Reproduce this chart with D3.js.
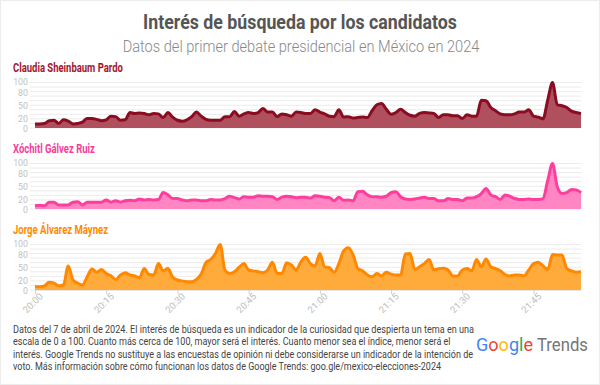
<!DOCTYPE html>
<html>
<head>
<meta charset="utf-8">
<script src="https://cdn.jsdelivr.net/npm/d3@7"></script>
<style>
  body { margin: 0; background: #fff; }
  text { font-family: Roboto, "Noto Sans", sans-serif; }
</style>
</head>
<body>
<script>
const width = 600;
const height = 385;

// one value per minute, 20:00 -> 21:55
const startTime = "20:00";
const endTime = "21:55";

const candidates = ["Claudia Sheinbaum Pardo", "Xóchitl Gálvez Ruiz", "Jorge Álvarez Máynez"];

const claudia = [9, 9, 10, 16, 17, 10, 18, 15, 9, 10, 13, 21, 21, 19, 16, 18, 26, 25, 17, 18,
    34, 32, 33, 32, 29, 32, 31, 23, 34, 24, 17, 15, 18, 25, 35, 26, 19, 17, 17, 17,
    25, 25, 36, 26, 31, 34, 32, 34, 43, 35, 35, 25, 31, 29, 26, 35, 34, 32, 32, 40,
    35, 31, 26, 25, 40, 24, 25, 22, 23, 24, 23, 38, 51, 54, 41, 30, 34, 41, 34, 28,
    26, 32, 34, 33, 32, 23, 29, 29, 27, 27, 21, 29, 26, 26, 61, 60, 45, 38, 31, 29,
    29, 31, 35, 35, 40, 26, 24, 20, 62, 100, 51, 49, 45, 37, 34, 32];

const xochitl = [7, 8, 7, 15, 15, 9, 9, 9, 15, 16, 9, 15, 15, 15, 15, 20, 15, 18, 15, 18,
    19, 18, 22, 20, 21, 20, 21, 36, 31, 23, 23, 20, 18, 20, 20, 18, 18, 21, 20, 20,
    23, 28, 25, 22, 27, 26, 26, 29, 28, 28, 27, 21, 26, 28, 27, 25, 26, 26, 24, 29,
    28, 26, 25, 18, 26, 19, 20, 18, 38, 39, 31, 27, 27, 26, 28, 36, 38, 27, 22, 21,
    22, 24, 26, 23, 23, 18, 18, 23, 21, 21, 18, 24, 24, 27, 34, 45, 31, 27, 21, 31,
    28, 23, 21, 21, 22, 21, 21, 23, 63, 100, 49, 34, 36, 43, 42, 36];

const jorge = [8, 7, 9, 17, 15, 9, 11, 53, 22, 15, 11, 29, 46, 39, 45, 36, 31, 23, 33, 38,
    33, 31, 27, 47, 34, 33, 58, 42, 47, 28, 22, 20, 18, 18, 23, 35, 60, 67, 80, 100,
    44, 36, 40, 50, 58, 44, 42, 40, 38, 44, 61, 36, 36, 60, 55, 44, 62, 72, 58, 53,
    80, 51, 49, 39, 58, 86, 93, 77, 47, 42, 33, 29, 36, 31, 39, 35, 33, 33, 79, 80,
    45, 51, 58, 67, 44, 47, 48, 44, 31, 31, 44, 47, 42, 67, 51, 68, 51, 47, 42, 34,
    31, 33, 33, 31, 44, 58, 61, 53, 45, 78, 77, 77, 47, 42, 39, 40];

const xTickLabels = ["20:00", "20:15", "20:30", "20:45", "21:00", "21:15", "21:30", "21:45"];
const yTickLabels = [0, 20, 50, 80, 100];
const gridValues = [0, 10, 20, 30, 40, 50, 60, 70, 80, 90, 100];

const footnote = [
    "Datos del 7 de abril de 2024. El interés de búsqueda es un indicador de la curiosidad que despierta un tema en una",
    "escala de 0 a 100. Cuanto más cerca de 100, mayor será el interés. Cuanto menor sea el índice, menor será el",
    "interés. Google Trends no sustituye a las encuestas de opinión ni debe considerarse un indicador de la intención de",
    "voto. Más información sobre cómo funcionan los datos de Google Trends: goo.gle/mexico-elecciones-2024"
];

const series = [claudia, xochitl, jorge];
const titleColors = ["#a3152e", "#f53d98", "#ff8a00"];
const lineColors = ["#8a0c20", "#ff3d9c", "#ff8800"];
const fillColors = ["#b0505f", "#ff86c3", "#ffab3c"];
const panelBase = [128, 209, 290];   // y of value 0 for each panel
const panelHeight = 45.5;

const svg = d3.select("body")
    .append("svg")
    .attr("width", width)
    .attr("height", height);

svg.append("rect")
    .attr("x", 0.5).attr("y", 0.5)
    .attr("width", width - 1).attr("height", height - 1)
    .attr("fill", "#fff")
    .attr("stroke", "#ececec");

// squeeze a text horizontally (stand-in for a condensed face)
function condense(sel, x, y, target, anchor) {
    const natural = sel.node().getComputedTextLength();
    const k = Math.min(1, target / natural);
    sel.attr("x", 0).attr("y", 0)
        .attr("text-anchor", anchor || "start")
        .attr("transform", "translate(" + x + "," + y + ") scale(" + k + ",1)");
}

// titles
condense(svg.append("text")
    .attr("font-size", 20).attr("font-weight", 700)
    .attr("fill", "#555")
    .text("Interés de búsqueda por los candidatos"), 300, 29, 314, "middle");

condense(svg.append("text")
    .attr("font-size", 16.5).attr("font-weight", 300)
    .attr("fill", "#888")
    .text("Datos del primer debate presidencial en México en 2024"), 301, 52, 357, "middle");

const parseTime = d3.timeParse("%H:%M");
const t0 = parseTime(startTime);

const x = d3.scaleTime()
    .domain([t0, parseTime(endTime)])
    .range([35, 581]);

const titleWidths = [110, 82, 95];
// small nudges so the crowded labels (0/20, 80/100) don't collide
const labelNudge = { 0: 0.6, 20: -0.6, 80: 0.6, 100: -0.6 };

series.forEach(function (values, k) {
    const y = d3.scaleLinear()
        .domain([0, 100])
        .range([panelBase[k], panelBase[k] - panelHeight]);

    const g = svg.append("g");

    condense(g.append("text")
        .attr("font-size", 12).attr("font-weight", 700)
        .attr("fill", titleColors[k])
        .text(candidates[k]), 13, panelBase[k] - 56, titleWidths[k]);

    // grid
    g.selectAll("line.grid")
        .data(gridValues)
        .enter()
        .append("line")
        .attr("class", "grid")
        .attr("x1", 30).attr("x2", 581)
        .attr("y1", d => y(d)).attr("y2", d => y(d))
        .attr("stroke", "#ececec")
        .attr("stroke-width", 1);

    const yAxis = g.append("g")
        .attr("transform", "translate(28,0)")
        .call(d3.axisLeft(y).tickValues(yTickLabels).tickSize(0).tickPadding(0));
    yAxis.select(".domain").remove();
    yAxis.selectAll("text")
        .attr("font-size", 8.8)
        .attr("y", d => labelNudge[d] || 0)
        .attr("fill", "#c2c2c2")
        .attr("font-family", "Roboto, sans-serif");

    const points = values.map((v, i) => ({ t: d3.timeMinute.offset(t0, i), v: v }));

    const area = d3.area()
        .x(d => x(d.t))
        .y0(y(0))
        .y1(d => y(d.v))
        .curve(d3.curveMonotoneX);

    const line = d3.line()
        .x(d => x(d.t))
        .y(d => y(d.v))
        .curve(d3.curveMonotoneX);

    g.append("path")
        .datum(points)
        .attr("d", area)
        .attr("fill", fillColors[k]);

    g.append("path")
        .datum(points)
        .attr("d", line)
        .attr("fill", "none")
        .attr("stroke", lineColors[k])
        .attr("stroke-width", 3)
        .attr("stroke-linejoin", "round");
});

// x axis under the last panel
const xAxis = svg.append("g")
    .attr("transform", "translate(0," + panelBase[2] + ")")
    .call(d3.axisBottom(x)
        .tickValues(xTickLabels.map(parseTime))
        .tickFormat(d3.timeFormat("%H:%M"))
        .tickSize(4)
        .tickSizeOuter(0));
xAxis.select(".domain").attr("stroke", "#e6e6e6");
xAxis.selectAll(".tick line").attr("stroke", "#d0d0d0");
xAxis.selectAll("text")
    .attr("font-size", 9.5)
    .attr("fill", "#bdbdbd")
    .attr("font-family", "Roboto, sans-serif")
    .attr("text-anchor", "end")
    .attr("dy", "0.3em")
    .attr("transform", "translate(1,0) rotate(-45)");

// footnote
const noteWidths = [461, 438, 460, 428];
footnote.forEach(function (line, i) {
    condense(svg.append("text")
        .attr("font-size", 10.2)
        .attr("fill", "#444")
        .text(line), 13, 333 + i * 12.3, noteWidths[i]);
});

// Google Trends logo
const googleLetters = ["G", "o", "o", "g", "l", "e"];
const googleColors = ["#4285f4", "#ea4335", "#fbbc05", "#4285f4", "#34a853", "#ea4335"];
const logo = svg.append("text")
    .attr("font-size", 18.5);
googleLetters.forEach(function (c, i) {
    logo.append("tspan").attr("fill", googleColors[i]).text(c);
});
condense(logo, 476, 351, 57);
condense(svg.append("text")
    .attr("font-size", 18.5)
    .attr("fill", "#757575")
    .text("Trends"), 537, 351, 51);
</script>
</body>
</html>
